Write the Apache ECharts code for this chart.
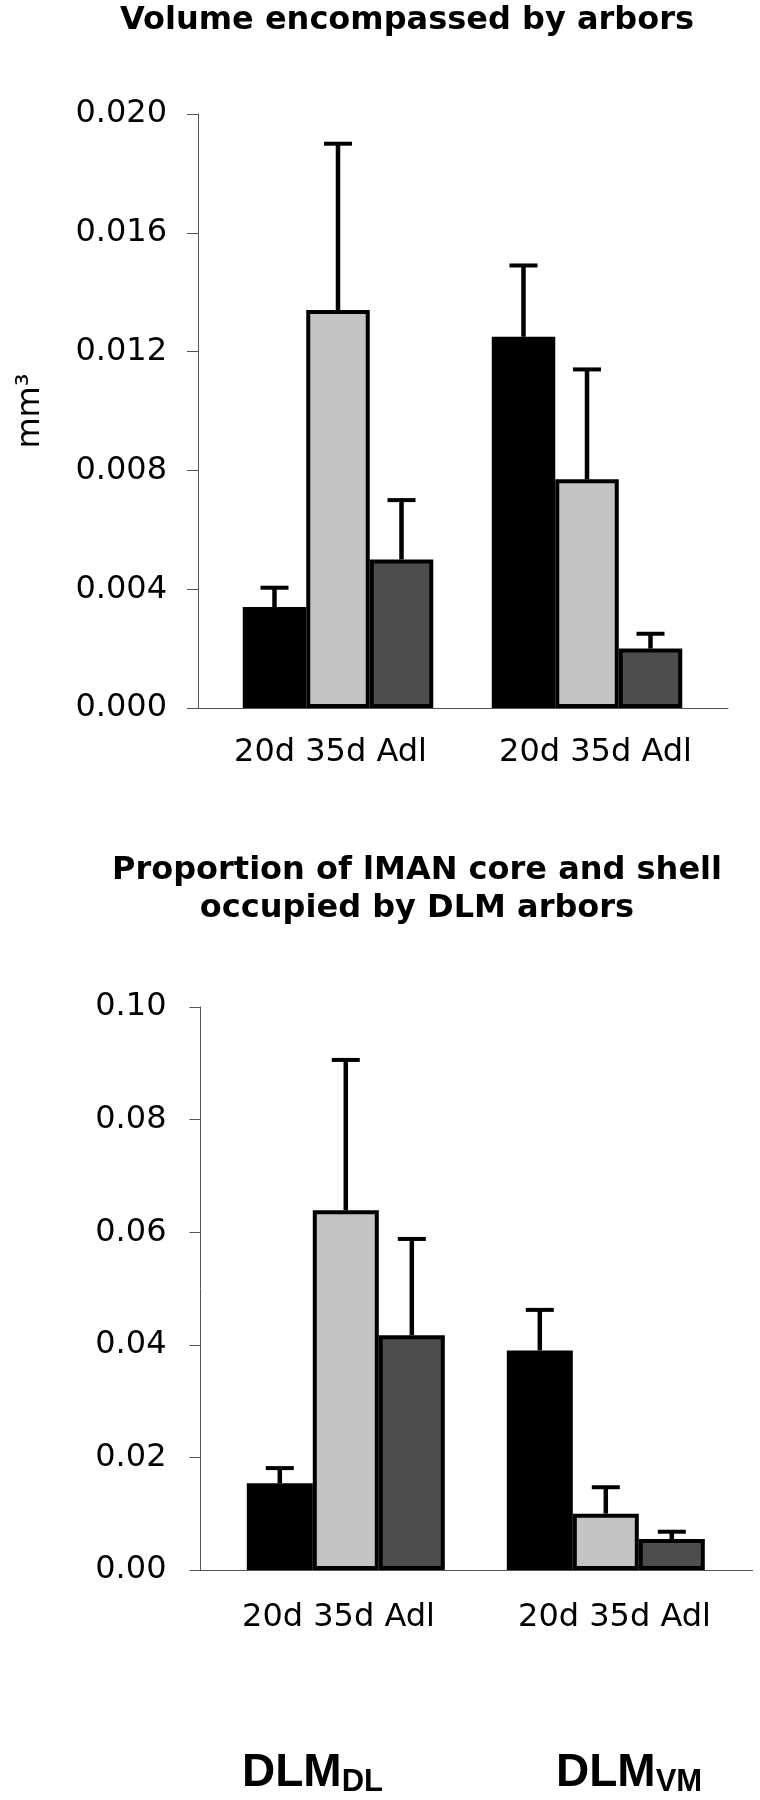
<!DOCTYPE html>
<html>
<head>
<meta charset="utf-8">
<script src="https://cdn.jsdelivr.net/npm/echarts@6/dist/echarts.min.js"></script>
<style>
  html, body { margin: 0; padding: 0; background: #fff; }
  #chart { width: 760px; height: 1800px; }
</style>
</head>
<body>
<div id="chart"></div>
<script>
// groups on the x axis (DLM_DL, DLM_VM)
const groupLabels = ['20d 35d Adl', '20d 35d Adl']
const ages = ['20d', '35d', 'Adl']
const barColors = ['#000000', '#c4c4c4', '#4d4d4d']

// volume encompassed by arbors (mm3), [DL, VM]
const vol20 = [0.0034, 0.0125]
const vol35 = [0.0134, 0.0077]
const volAdl = [0.0050, 0.0020]
const vol20Err = [0.00065, 0.0024]
const vol35Err = [0.0056, 0.0037]
const volAdlErr = [0.0020, 0.0005]

// proportion of lMAN core and shell, [DL, VM]
const prop20 = [0.0154, 0.0390]
const prop35 = [0.0639, 0.0100]
const propAdl = [0.0417, 0.0055]
const prop20Err = [0.0027, 0.0072]
const prop35Err = [0.0267, 0.0047]
const propAdlErr = [0.0171, 0.0013]

const tickFont = 'DejaVu Sans'
const axisColor = '#555'

function barSeries(means, errs, xIdx, yIdx, bw) {
  const out = []
  means.forEach((row, i) => {
    out.push({
      type: 'bar',
      name: ages[i],
      xAxisIndex: xIdx,
      yAxisIndex: yIdx,
      data: row,
      barWidth: bw,
      barGap: '0%',
      silent: true,
      itemStyle: { color: barColors[i], borderColor: '#000', borderWidth: 4 },
    })
  })
  means.forEach((row, i) => {
    out.push({
      type: 'custom',
      xAxisIndex: xIdx,
      yAxisIndex: yIdx,
      z: 5,
      silent: true,
      data: row.map((v, j) => [j, v, v + errs[i][j]]),
      renderItem: (params, api) => {
        const base = api.coord([api.value(0), api.value(1)])
        const top = api.coord([api.value(0), api.value(2)])
        const x = base[0] + (i - 1) * bw
        return {
          type: 'group',
          children: [
            { type: 'line', shape: { x1: x, y1: base[1], x2: x, y2: top[1] }, style: { stroke: '#000', lineWidth: 4.5 } },
            { type: 'line', shape: { x1: x - 14, y1: top[1], x2: x + 14, y2: top[1] }, style: { stroke: '#000', lineWidth: 4 } },
          ],
        }
      },
    })
  })
  return out
}

function shownX(gridIndex, margin) {
  return {
    gridIndex,
    type: 'category',
    data: groupLabels,
    axisLine: { lineStyle: { color: axisColor, width: 1 } },
    axisTick: { interval: (i) => i === 0, length: 10, lineStyle: { color: axisColor } },
    axisLabel: { fontFamily: tickFont, fontSize: 32, color: '#000', margin },
  }
}

function shownY(gridIndex, max, interval, digits, margin, extra) {
  return Object.assign({
    gridIndex,
    type: 'value',
    min: 0,
    max,
    interval,
    splitLine: { show: false },
    axisLine: { show: true, lineStyle: { color: axisColor, width: 1 } },
    axisTick: { show: true, length: 11, lineStyle: { color: axisColor } },
    axisLabel: { fontFamily: tickFont, fontSize: 32, color: '#000', margin, formatter: (v) => v.toFixed(digits) },
  }, extra || {})
}

const chart = echarts.init(document.getElementById('chart'))

const titleStyle = { fontFamily: 'DejaVu Sans', fontWeight: 'bold', fontSize: 32, color: '#000' }
const dlmRich = {
  m: { fontFamily: 'Liberation Sans', fontWeight: 'bold', fontSize: 46, color: '#000', lineHeight: 50 },
  s: { fontFamily: 'Liberation Sans', fontWeight: 'bold', fontSize: 31, color: '#000', lineHeight: 22, verticalAlign: 'bottom' },
}

const option = {
  animation: false,
  backgroundColor: '#fff',
  title: [
    { text: 'Volume encompassed by arbors', left: 407, top: 5, textAlign: 'center', padding: 0, textStyle: titleStyle },
    {
      text: 'Proportion of lMAN core and shell\noccupied by DLM arbors',
      left: 417, top: 852, textAlign: 'center', padding: 0,
      textStyle: Object.assign({}, titleStyle, { lineHeight: 38 }),
    },
    { text: '{m|DLM}{s|DL}', left: 242, top: 1748, padding: 0, textStyle: { rich: dlmRich } },
    { text: '{m|DLM}{s|VM}', left: 556, top: 1748, padding: 0, textStyle: { rich: dlmRich } },
  ],
  grid: [
    { left: 198, right: 32, top: 114, height: 594 },
    { left: 213.5, right: 48.5, top: 114, height: 594 },
    { left: 200.5, right: 7.5, top: 1007, height: 563 },
    { left: 215.8, right: 24.2, top: 1007, height: 563 },
  ],
  xAxis: [
    shownX(0, 29),
    { gridIndex: 1, type: 'category', data: groupLabels, show: false },
    shownX(2, 32),
    { gridIndex: 3, type: 'category', data: groupLabels, show: false },
  ],
  yAxis: [
    shownY(0, 0.02, 0.004, 3, 31, {
      name: 'mm³',
      nameLocation: 'middle',
      nameRotate: 90,
      nameGap: 151,
      nameTextStyle: { fontFamily: tickFont, fontSize: 32, color: '#000' },
    }),
    { gridIndex: 1, type: 'value', min: 0, max: 0.02, show: false, splitLine: { show: false } },
    shownY(2, 0.1, 0.02, 2, 34),
    { gridIndex: 3, type: 'value', min: 0, max: 0.1, show: false, splitLine: { show: false } },
  ],
  series: [
    ...barSeries([vol20, vol35, volAdl], [vol20Err, vol35Err, volAdlErr], 1, 1, 63.5),
    ...barSeries([prop20, prop35, propAdl], [prop20Err, prop35Err, propAdlErr], 3, 3, 66),
  ],
}

chart.setOption(option)
</script>
</body>
</html>
